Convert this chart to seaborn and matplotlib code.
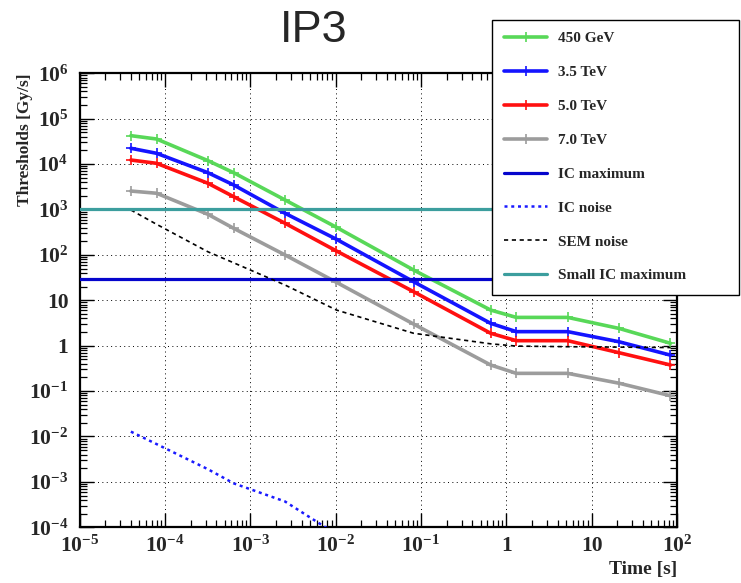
import numpy as np
import pandas as pd
import seaborn as sns
import matplotlib
matplotlib.use("Agg")
import matplotlib.pyplot as plt
from matplotlib.ticker import LogLocator, FixedLocator, FixedFormatter, NullFormatter
from matplotlib.lines import Line2D

# Running-sum integration times [s]
times = [4e-5, 8e-5, 3.2e-4, 6.4e-4, 2.56e-3, 1.024e-2,
         8.192e-2, 0.65536, 1.31072, 5.24288, 20.97152, 83.88608]

# Thresholds [Gy/s] per beam energy
thr_450gev = [42300, 35700, 11900, 6460, 1620, 405, 46.5, 6.1, 4.2, 4.2, 2.4, 1.13]
thr_3p5tev = [22300, 17300, 6460, 3470, 824, 221, 25.7, 3.11, 2.04, 2.04, 1.22, 0.62]
thr_5p0tev = [12300, 10400, 3780, 1915, 497, 122, 15.5, 1.88, 1.29, 1.29, 0.70, 0.376]
thr_7p0tev = [2550, 2280, 783, 385, 99.6, 24.9, 3.0, 0.376, 0.246, 0.246, 0.149, 0.079]

# Detector limits
sem_noise = [975, 472, 117, 67, 21.7, 6.1, 1.88, 1.1, 0.98, 0.95, 0.93, 0.91]
ic_noise_times = [4e-5, 8e-5, 3.2e-4, 6.4e-4, 2.56e-3, 1.024e-2]
ic_noise = [0.0128, 0.0068, 1.9e-3, 9.3e-4, 3.7e-4, 7e-5]
ic_maximum = 29
small_ic_maximum = 1000

series_labels = ["450 GeV", "3.5 TeV", "5.0 TeV", "7.0 TeV",
                 "IC maximum", "IC noise", "SEM noise", "Small IC maximum"]

x_tick_values = [1e-5, 1e-4, 1e-3, 1e-2, 1e-1, 1, 10, 100]
x_tick_labels = [r"$\mathrm{10^{-5}}$", r"$\mathrm{10^{-4}}$", r"$\mathrm{10^{-3}}$",
                 r"$\mathrm{10^{-2}}$", r"$\mathrm{10^{-1}}$", "1", "10", r"$\mathrm{10^{2}}$"]
y_tick_values = [1e-4, 1e-3, 1e-2, 1e-1, 1, 10, 1e2, 1e3, 1e4, 1e5, 1e6]
y_tick_labels = [r"$\mathrm{10^{-4}}$", r"$\mathrm{10^{-3}}$", r"$\mathrm{10^{-2}}$",
                 r"$\mathrm{10^{-1}}$", "1", "10", r"$\mathrm{10^{2}}$", r"$\mathrm{10^{3}}$",
                 r"$\mathrm{10^{4}}$", r"$\mathrm{10^{5}}$", r"$\mathrm{10^{6}}$"]

sns.set_style("ticks")
plt.rcParams.update({
    "font.family": ["Liberation Serif", "DejaVu Serif"],
    "font.weight": "bold",
    "mathtext.fontset": "custom",
    "mathtext.rm": "Liberation Serif:bold",
    "mathtext.bf": "Liberation Serif:bold",
    "mathtext.it": "Liberation Serif:bold:italic",
})

W, H = 741, 583
fig = plt.figure(figsize=(W / 100, H / 100), dpi=100)
ax = fig.add_axes([79.5 / W, 1 - 527.3 / H, (677 - 79.5) / W, (527.3 - 73.3) / H])

ax.set_xscale("log")
ax.set_yscale("log")
ax.set_xlim(1e-5, 1e2)
ax.set_ylim(1e-4, 1e6)

ax.grid(True, which="major", color="black", lw=0.7, ls=(0, (1, 3.5)), zorder=0)

energy_styles = [
    (thr_450gev, "#58d858", "450 GeV"),
    (thr_3p5tev, "#1414ff", "3.5 TeV"),
    (thr_5p0tev, "#ff1010", "5.0 TeV"),
    (thr_7p0tev, "#9c9c9c", "7.0 TeV"),
]
handles = []
for vals, col, lab in energy_styles:
    df = pd.DataFrame({"t": times, "thr": vals})
    sns.lineplot(data=df, x="t", y="thr", ax=ax, estimator=None, sort=False,
                 color=col, lw=2.6, marker="+", ms=7, markeredgecolor=col,
                 markeredgewidth=1.2, legend=False, zorder=3)
    handles.append(Line2D([], [], color=col, lw=2.6, marker="+", ms=7,
                          markeredgecolor=col, markeredgewidth=1.2))

ic_max_col = "#0505cc"
ax.axhline(ic_maximum, color=ic_max_col, lw=2.3, zorder=4)
handles.append(Line2D([], [], color=ic_max_col, lw=2.3))

noise_col = "#1a1aff"
sns.lineplot(x=ic_noise_times, y=ic_noise, ax=ax, estimator=None, sort=False,
             color=noise_col, lw=1.8, ls=(0, (1.2, 1.5)), legend=False, zorder=4)
handles.append(Line2D([], [], color=noise_col, lw=1.8, ls=(0, (1.2, 1.5))))

sns.lineplot(x=times, y=sem_noise, ax=ax, estimator=None, sort=False,
             color="black", lw=1.2, ls=(0, (2.5, 2.2)), legend=False, zorder=5)
handles.append(Line2D([], [], color="black", lw=1.2, ls=(0, (2.5, 2.2))))

teal = "#3c9e9e"
ax.axhline(small_ic_maximum, color=teal, lw=2.3, zorder=6)
handles.append(Line2D([], [], color=teal, lw=2.3))

# Ticks on all four sides, pointing inwards
ax.xaxis.set_major_locator(FixedLocator(x_tick_values))
ax.xaxis.set_major_formatter(FixedFormatter(x_tick_labels))
ax.xaxis.set_minor_locator(LogLocator(base=10, subs=np.arange(2, 10), numticks=100))
ax.xaxis.set_minor_formatter(NullFormatter())
ax.yaxis.set_major_locator(FixedLocator(y_tick_values))
ax.yaxis.set_major_formatter(FixedFormatter(y_tick_labels))
ax.yaxis.set_minor_locator(LogLocator(base=10, subs=np.arange(2, 10), numticks=100))
ax.yaxis.set_minor_formatter(NullFormatter())
ax.tick_params(which="both", direction="in", top=True, right=True, color="black")
ax.tick_params(which="major", length=10, width=1.0, labelsize=15.5)
ax.tick_params(which="minor", length=5, width=0.9)
ax.tick_params(axis="x", which="major", pad=6)
ax.tick_params(axis="y", which="major", pad=8)
for s in ax.spines.values():
    s.set_linewidth(1.6)
    s.set_color("black")

ax.set_xlabel("Time [s]", fontsize=14, fontweight="bold", loc="right")
ax.xaxis.set_label_coords(1.0, -0.075)
ax.set_ylabel("Thresholds [Gy/s]", fontsize=12.5, fontweight="bold", loc="top")
ax.yaxis.set_label_coords(-0.078, 1.0)

fig.text(314 / W, 1 - 31 / H, "IP3", ha="center", va="center", fontsize=32.5,
         fontweight="normal", family=["Liberation Sans", "DejaVu Sans"])

leg = ax.legend(handles, series_labels, loc="upper left",
                bbox_to_anchor=(492 / W, 1 - 292.5 / H, 247 / W, 273 / H),
                bbox_transform=fig.transFigure, mode="expand", borderaxespad=0,
                frameon=True, fancybox=False, shadow=False, framealpha=1,
                edgecolor="black", prop={"family": "Liberation Serif", "weight": "bold", "size": 11},
                handlelength=2.8, handletextpad=0.7, labelspacing=1.32, borderpad=0.8)
leg.get_frame().set_linewidth(1.0)
leg.set_zorder(10)

fig.savefig("out.png", dpi=100)
